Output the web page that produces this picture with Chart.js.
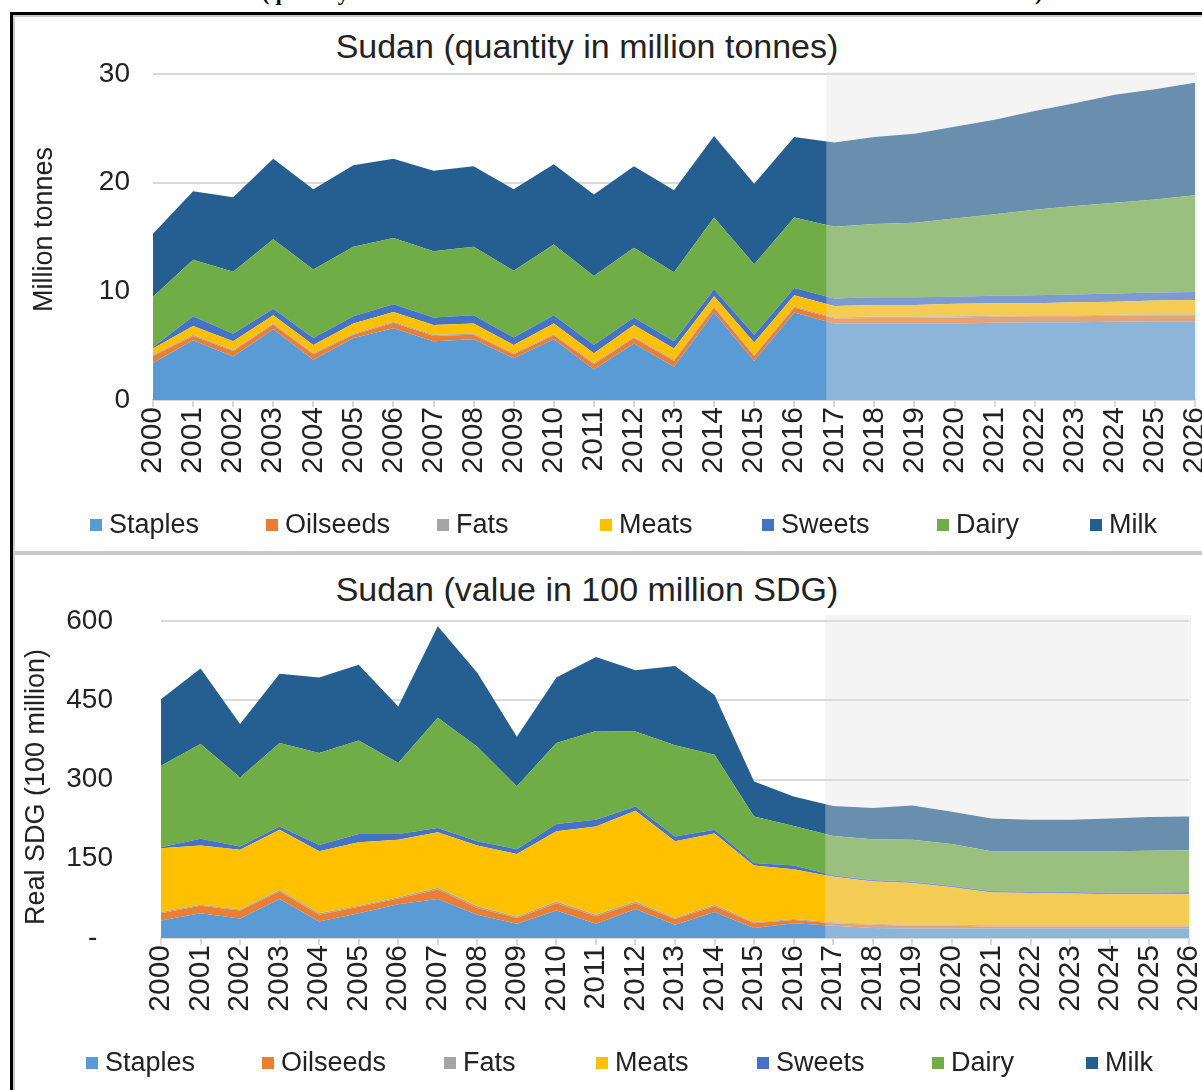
<!DOCTYPE html>
<html>
<head>
<meta charset="utf-8">
<script src="https://cdn.jsdelivr.net/npm/chart.js@4.4.0/dist/chart.umd.min.js"></script>
<style>
  html, body { margin: 0; padding: 0; background: #fff; }
  body { position: relative; width: 1202px; height: 1090px; overflow: hidden; }
  #heading { position: absolute; left: 262px; top: -18px; font: bold 22px/22px "Liberation Serif", "Times New Roman", serif; word-spacing: 27px; white-space: nowrap; color: #000; }
  #frame { position: absolute; left: 10px; top: 12px; width: 1260px; height: 1120px; border-left: 3px solid #000; border-top: 3px solid #000; }
  .panel { position: absolute; left: 13px; width: 1250px; border: 2px solid #c9c9c9; box-sizing: border-box; }
  #panelQ { top: 15px; height: 538px; }
  #panelV { top: 553px; height: 600px; }
  .title { position: absolute; left: 0; width: 1174px; text-align: center; font: 34px/38px "Liberation Sans", Arial, sans-serif; color: #222; }
  canvas { position: absolute; left: 0; }
  #qty { top: 15px; }
  #val { top: 555px; }
</style>
</head>
<body>
<div id="heading">(quantity in million tonnes and value in 100 million SDG)</div>
<div id="frame"></div>
<div class="panel" id="panelQ"></div>
<div class="panel" id="panelV"></div>
<div class="title" style="top:27px">Sudan (quantity in million tonnes)</div>
<div class="title" style="top:570px">Sudan (value in 100 million SDG)</div>
<canvas id="qty" width="1202" height="534"></canvas>
<canvas id="val" width="1202" height="535"></canvas>

<script>
// categories
const years = ['2000', '2001', '2002', '2003', '2004', '2005', '2006', '2007', '2008', '2009',
  '2010', '2011', '2012', '2013', '2014', '2015', '2016', '2017', '2018', '2019',
  '2020', '2021', '2022', '2023', '2024', '2025', '2026'];
const seriesNames = ['Staples', 'Oilseeds', 'Fats', 'Meats', 'Sweets', 'Dairy', 'Milk'];
const forecastFrom = '2017';

// quantity, million tonnes (stacked)
const qStaples = [3.4, 5.5, 4.0, 6.5, 3.7, 5.7, 6.6, 5.4, 5.6, 3.85, 5.6, 2.8, 5.2, 3.05, 8.05, 3.6, 8.05, 7.05, 7.05, 7.05, 7.05, 7.1, 7.15, 7.15, 7.2, 7.25, 7.25];
const qOilseeds = [0.65, 0.4, 0.5, 0.45, 0.5, 0.3, 0.5, 0.5, 0.4, 0.35, 0.35, 0.5, 0.5, 0.55, 0.45, 0.45, 0.45, 0.45, 0.5, 0.5, 0.55, 0.55, 0.55, 0.55, 0.55, 0.55, 0.55];
const qFats = [0.1, 0.1, 0.1, 0.1, 0.1, 0.1, 0.1, 0.1, 0.1, 0.1, 0.1, 0.1, 0.1, 0.1, 0.1, 0.1, 0.1, 0.1, 0.1, 0.1, 0.1, 0.1, 0.1, 0.1, 0.1, 0.1, 0.1];
const qMeats = [0.6, 0.8, 0.8, 0.75, 0.75, 0.95, 0.9, 0.9, 0.95, 0.75, 1.0, 0.9, 1.1, 1.05, 0.95, 1.15, 1.05, 1.05, 1.1, 1.1, 1.15, 1.15, 1.1, 1.2, 1.2, 1.25, 1.3];
const qSweets = [0.1, 0.9, 0.7, 0.6, 0.65, 0.65, 0.7, 0.7, 0.75, 0.7, 0.75, 0.75, 0.7, 0.65, 0.65, 0.7, 0.65, 0.7, 0.7, 0.7, 0.65, 0.7, 0.75, 0.7, 0.75, 0.75, 0.75];
const qDairy = [4.65, 5.2, 5.7, 6.4, 6.3, 6.4, 6.1, 6.1, 6.3, 6.15, 6.5, 6.35, 6.4, 6.35, 6.6, 6.5, 6.5, 6.6, 6.75, 6.85, 7.2, 7.5, 7.85, 8.15, 8.35, 8.55, 8.9];
const qMilk = [5.8, 6.3, 6.85, 7.4, 7.4, 7.5, 7.3, 7.4, 7.4, 7.5, 7.4, 7.5, 7.5, 7.55, 7.5, 7.4, 7.4, 7.75, 8.0, 8.2, 8.45, 8.7, 9.1, 9.45, 9.95, 10.15, 10.35];
const qTicks = [0, 10, 20, 30];

// value, 100 million SDG (stacked)
const vStaples = [33, 47, 37, 74, 31, 47, 64, 74, 44, 27, 52, 27, 55, 25, 49, 19, 28, 23, 19, 18, 18, 18, 18, 18, 18, 18, 18];
const vOilseeds = [14, 14, 15, 14, 13, 12, 11, 18, 13, 11, 14, 14, 11, 11, 11, 9, 6, 5, 6, 5, 5, 4, 4, 4, 4, 4, 4];
const vFats = [2, 2, 2, 3, 3, 2, 2, 3, 3, 2, 3, 3, 3, 2, 3, 2, 2, 2, 2, 2, 2, 2, 2, 2, 2, 2, 2];
const vMeats = [121, 112, 113, 114, 117, 120, 109, 105, 115, 119, 133, 167, 172, 145, 135, 107, 94, 86, 80, 79, 71, 62, 61, 60, 59, 59, 59];
const vSweets = [2, 13, 6, 6, 12, 16, 11, 8, 8, 9, 14, 13, 8, 9, 7, 5, 7, 3, 3, 3, 3, 3, 3, 3, 3, 3, 4];
const vDairy = [154, 179, 131, 158, 174, 177, 134, 209, 179, 119, 153, 168, 142, 173, 142, 88, 75, 74, 77, 79, 79, 75, 76, 77, 78, 79, 79];
const vMilk = [126, 143, 101, 131, 143, 143, 107, 173, 140, 94, 124, 140, 116, 150, 113, 66, 56, 57, 59, 65, 61, 62, 60, 60, 62, 64, 64];
const vTicks = [0, 150, 300, 450, 600];

const seriesColors = ['#5B9BD5', '#ED7D31', '#A5A5A5', '#FFC000', '#4472C4', '#70AD47', '#255E91'];
const textColor = '#222';
const fontFamily = '"Liberation Sans", Arial, sans-serif';

Chart.defaults.font.family = fontFamily;

// grey veil over the projection years
const forecastShade = {
    id: 'forecastShade',
    afterDatasetsDraw(chart, args, opts) {
        const { ctx, chartArea, scales } = chart;
        const left = scales.x.getPixelForValue(years.indexOf(forecastFrom) - 0.2);
        ctx.save();
        ctx.fillStyle = 'rgba(225, 225, 225, 0.37)';
        ctx.fillRect(left, chartArea.top - opts.above, chartArea.right + 2 - left, chartArea.bottom - chartArea.top + opts.above);
        ctx.restore();
    }
};

// legend row with Excel-like uneven slots
const slotLegend = {
    id: 'slotLegend',
    afterDraw(chart, args, opts) {
        const { ctx } = chart;
        ctx.save();
        ctx.font = '27px ' + fontFamily;
        ctx.textBaseline = 'middle';
        chart.data.datasets.forEach((ds, i) => {
            const x = opts.slots[i];
            ctx.fillStyle = ds.backgroundColor;
            ctx.fillRect(x, opts.y - 6, 12, 12);
            ctx.fillStyle = textColor;
            ctx.fillText(ds.label, x + 19, opts.y + 1);
        });
        ctx.restore();
    }
};

function buildChart(id, series, ticks, cfg) {
    const datasets = series.map((values, i) => ({
        label: seriesNames[i],
        data: values,
        backgroundColor: seriesColors[i],
        borderColor: seriesColors[i],
        borderWidth: 0,
        pointRadius: 0,
        pointHoverRadius: 0,
        tension: 0,
        fill: i === 0 ? 'origin' : '-1'
    }));

    return new Chart(document.getElementById(id), {
        type: 'line',
        data: { labels: years, datasets },
        options: {
            responsive: false,
            animation: false,
            events: [],
            layout: { padding: { left: 0, right: cfg.padRight, top: cfg.padTop, bottom: 0 } },
            plugins: {
                title: { display: false },
                tooltip: { enabled: false },
                legend: { display: false },
                forecastShade: { above: cfg.shadeAbove },
                slotLegend: { slots: cfg.legendSlots, y: cfg.legendY }
            },
            scales: {
                x: {
                    grid: { drawOnChartArea: false, color: '#d9d9d9', lineWidth: 2, tickLength: 7 },
                    border: { color: '#d9d9d9', width: 2 },
                    ticks: { autoSkip: false, minRotation: 90, maxRotation: 90, padding: 0, color: textColor, font: { size: 30 } },
                    afterFit: (s) => { s.height = cfg.xHeight; s.paddingLeft = 0; s.paddingRight = 0; }
                },
                y: {
                    stacked: true,
                    min: ticks[0],
                    max: ticks[ticks.length - 1],
                    grid: { color: '#d9d9d9', lineWidth: 2, drawTicks: false },
                    border: { display: false },
                    ticks: {
                        stepSize: ticks[1] - ticks[0],
                        padding: cfg.tickPad,
                        color: textColor,
                        font: { size: 28 },
                        callback: cfg.tickFormat
                    },
                    title: { display: true, text: cfg.yTitle, color: textColor, font: { size: 27 }, padding: { top: cfg.yTitlePad, bottom: 0 } },
                    afterFit: (s) => { s.width = cfg.yWidth; }
                }
            }
        },
        plugins: [forecastShade, slotLegend]
    });
}

buildChart('qty', [qStaples, qOilseeds, qFats, qMeats, qSweets, qDairy, qMilk], qTicks, {
    padRight: 7, padTop: 59, yWidth: 153, xHeight: 149, tickPad: 23,
    yTitle: '  Million tonnes', yTitlePad: 28, shadeAbove: 2,
    legendSlots: [90, 266, 437, 600, 762, 937, 1090], legendY: 510,
    tickFormat: (v) => v
});

buildChart('val', [vStaples, vOilseeds, vFats, vMeats, vSweets, vDairy, vMilk], vTicks, {
    padRight: 13, padTop: 66, yWidth: 161, xHeight: 152, tickPad: 48,
    yTitle: 'Real SDG (100 million)  ', yTitlePad: 20, shadeAbove: 6,
    legendSlots: [86, 262, 444, 596, 757, 932, 1086], legendY: 508,
    tickFormat: (v) => v === 0 ? '-  ' : v
});
</script>
</body>
</html>
